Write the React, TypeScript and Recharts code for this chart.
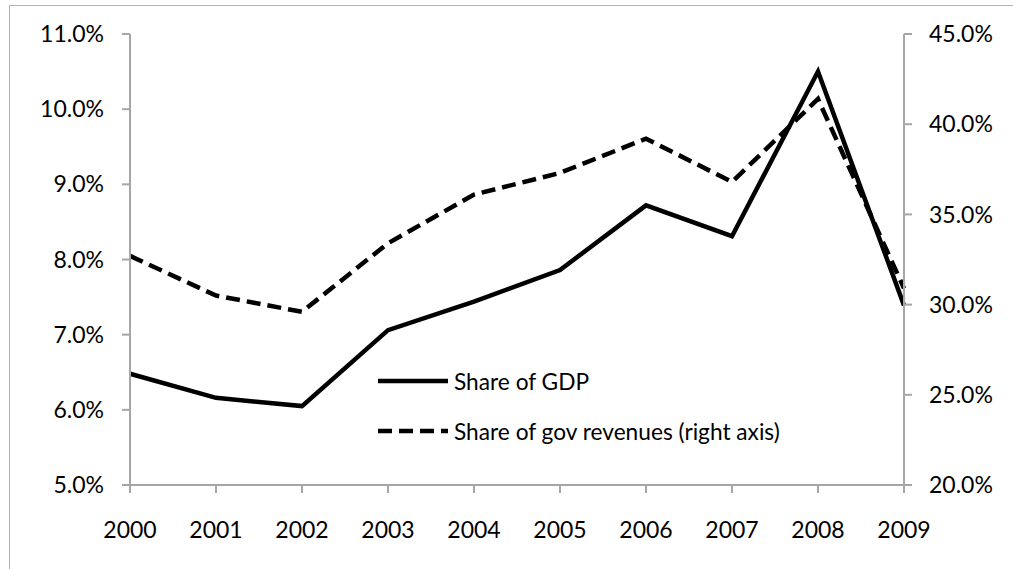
import { LineChart, Line, XAxis, YAxis, Legend } from "recharts";

const YEARS = ["2000", "2001", "2002", "2003", "2004", "2005", "2006", "2007", "2008", "2009"];
const GDP_SHARE = [6.48, 6.16, 6.05, 7.06, 7.44, 7.86, 8.72, 8.31, 10.5, 7.39];
const REVENUE_SHARE = [32.7, 30.5, 29.6, 33.4, 36.1, 37.3, 39.2, 36.8, 41.4, 30.9];
const LEFT_TICKS = [5, 6, 7, 8, 9, 10, 11];
const RIGHT_TICKS = [20, 25, 30, 35, 40, 45];

const GDP_LABEL = "Share of GDP";
const REV_LABEL = "Share of gov revenues (right axis)";

const data = YEARS.map((year, i) => ({
  year,
  gdp: GDP_SHARE[i],
  rev: REVENUE_SHARE[i],
}));

const FONT = "Lato, 'Open Sans', sans-serif";
const AXIS = "#a6a6a6";
const tickStyle = { fill: "#000", fontSize: 23, fontFamily: FONT };

const pct = (v: number) => `${v.toFixed(1)}%`;

function LegendBox() {
  const items = [
    { label: GDP_LABEL, dash: undefined },
    { label: REV_LABEL, dash: "14 7" },
  ];
  return (
    <div style={{ fontFamily: FONT, fontSize: 22.7, color: "#000" }}>
      {items.map((it) => (
        <div
          key={it.label}
          style={{ display: "flex", alignItems: "center", height: 50 }}
        >
          <svg width={76} height={10}>
            <line
              x1={0}
              y1={5}
              x2={70}
              y2={5}
              stroke="#000"
              strokeWidth={4.5}
              strokeDasharray={it.dash}
            />
          </svg>
          <span>{it.label}</span>
        </div>
      ))}
    </div>
  );
}

export default function App() {
  return (
    <div
      style={{
        position: "absolute",
        left: 0,
        top: 0,
        width: 1013,
        height: 569,
        overflow: "hidden",
        background: "#fff",
      }}
    >
      {/* chart frame, cropped on right and bottom */}
      <div
        style={{
          position: "absolute",
          left: 9,
          top: 5,
          width: 1100,
          height: 700,
          border: "1.5px solid #b3b3b3",
        }}
      />
      <LineChart
        width={1013}
        height={569}
        data={data}
        margin={{ top: 34, right: 9, left: 10, bottom: 24 }}
        style={{ position: "absolute", left: 0, top: 0 }}
      >
        <XAxis
          dataKey="year"
          height={60}
          tick={tickStyle}
          tickSize={8}
          tickMargin={29}
          axisLine={{ stroke: AXIS, strokeWidth: 2 }}
          tickLine={{ stroke: AXIS, strokeWidth: 2 }}
          interval={0}
        />
        <YAxis
          yAxisId="left"
          width={120}
          domain={[5, 11]}
          ticks={LEFT_TICKS}
          tickFormatter={pct}
          tick={tickStyle}
          tickSize={8}
          tickMargin={18}
          axisLine={{ stroke: AXIS, strokeWidth: 2 }}
          tickLine={{ stroke: AXIS, strokeWidth: 2 }}
        />
        <YAxis
          yAxisId="right"
          orientation="right"
          width={100}
          domain={[20, 45]}
          ticks={RIGHT_TICKS}
          tickFormatter={pct}
          tick={tickStyle}
          tickSize={8}
          tickMargin={17}
          axisLine={{ stroke: AXIS, strokeWidth: 2 }}
          tickLine={{ stroke: AXIS, strokeWidth: 2 }}
        />
        <Legend
          layout="horizontal"
          verticalAlign="middle"
          content={<LegendBox />}
          wrapperStyle={{ position: "absolute", left: 378, top: 356, width: "auto" }}
        />
        <Line
          yAxisId="left"
          dataKey="gdp"
          name={GDP_LABEL}
          stroke="#000"
          strokeWidth={4.5}
          dot={false}
          isAnimationActive={false}
        />
        <Line
          yAxisId="right"
          dataKey="rev"
          name={REV_LABEL}
          stroke="#000"
          strokeWidth={4.5}
          strokeDasharray="14 7"
          dot={false}
          isAnimationActive={false}
        />
      </LineChart>
    </div>
  );
}
